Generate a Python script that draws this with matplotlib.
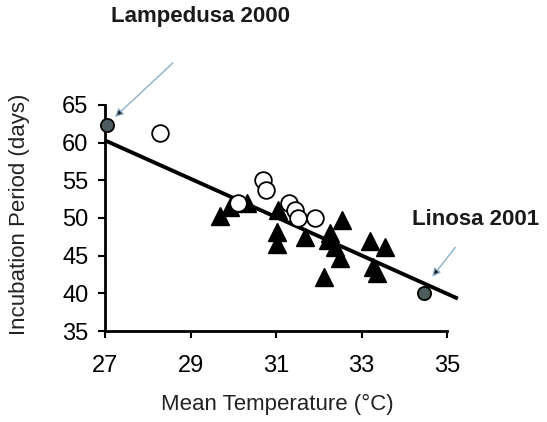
import matplotlib
matplotlib.use('Agg')
from matplotlib import pyplot as plt

plt.rcParams['font.family'] = ['Liberation Sans', 'DejaVu Sans']

# open circles
circ_x = [28.29, 30.70, 30.77, 30.11, 31.29, 31.44, 31.51, 31.90]
circ_y = [61.3, 55.1, 53.7, 52.0, 52.0, 51.1, 50.0, 50.0]

# filled triangles
tri_x = [29.69, 29.93, 30.33, 31.05, 31.02, 31.02, 31.68, 32.54, 32.26,
         32.22, 32.37, 32.49, 33.20, 33.55, 33.27, 33.36, 32.12]
tri_y = [50.2, 51.4, 52.0, 51.1, 48.2, 46.5, 47.5, 49.8, 48.0,
         47.1, 46.2, 44.7, 46.9, 46.2, 43.5, 42.7, 42.2]

# highlighted sites
site_names = ['Lampedusa 2000', 'Linosa 2001']
site_x = [27.05, 34.45]
site_y = [62.3, 40.0]

# regression line
fit_x = [27.0, 35.25]
fit_y = [60.3, 39.3]

xticks = [27, 29, 31, 33, 35]
yticks = [35, 40, 45, 50, 55, 60, 65]

fig = plt.figure(figsize=(5.47, 4.22), dpi=100)
ax = fig.add_axes([0.192, 0.2156, 0.649, 0.5535])

ax.plot(fit_x, fit_y, color='black', lw=2.8, zorder=2, clip_on=False,
        solid_capstyle='butt')
ax.plot(tri_x, tri_y, '^', ms=12.5, mfc='black', mec='black', zorder=3,
        clip_on=False)
ax.plot(circ_x, circ_y, 'o', ms=12, mfc='white', mec='black', mew=1.3,
        zorder=4, clip_on=False)
ax.plot(site_x, site_y, 'o', ms=9.5, mfc='#4d5c5c', mec='black', mew=1.3,
        zorder=5, clip_on=False)

ax.set_xlim(27, 35.3)
ax.set_ylim(35, 66)
ax.set_xticks(xticks)
ax.set_yticks(yticks)
ax.spines['top'].set_visible(False)
ax.spines['right'].set_visible(False)
ax.spines['bottom'].set_bounds(27, 35)
ax.spines['left'].set_bounds(35, 65)
for s in ['bottom', 'left']:
    ax.spines[s].set_linewidth(2)
ax.tick_params(axis='both', direction='out', length=5, width=1.5,
               labelsize=17, colors='black')
ax.tick_params(axis='x', pad=12)
ax.tick_params(axis='y', pad=7)

ax.set_xlabel('Mean Temperature (°C)', fontsize=16, color='#222222')
ax.set_ylabel('Incubation Period (days)', fontsize=16, color='#222222')
ax.xaxis.set_label_coords(0.486, -0.27)
ax.yaxis.set_label_coords(-0.21, 0.5)

# annotations
arrow = dict(arrowstyle='-|>', fc='#1a1a1a', ec='#8db0cc', lw=1.0,
             mutation_scale=12, shrinkA=0, shrinkB=0)
ax.annotate('', xy=(27.23, 63.4), xytext=(28.59, 70.6),
            arrowprops=arrow, annotation_clip=False)
ax.annotate('', xy=(34.65, 42.2), xytext=(35.19, 46.1),
            arrowprops=arrow, annotation_clip=False)
fig.text(0.366, 0.960, site_names[0], fontsize=16, fontweight='bold',
         ha='center', va='center', color='#1a1a1a')
fig.text(0.753, 0.481, site_names[1], fontsize=16, fontweight='bold',
         ha='left', va='center', color='#1a1a1a')

fig.savefig('out.png', dpi=100)
